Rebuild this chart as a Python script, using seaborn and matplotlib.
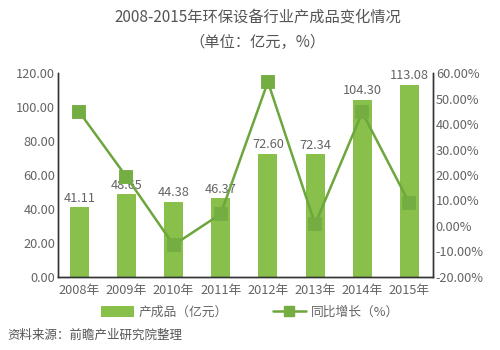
import matplotlib
matplotlib.use("Agg")
import matplotlib.pyplot as plt
from matplotlib.patches import Patch
from matplotlib.lines import Line2D
import seaborn as sns
import pandas as pd

years = ["2008年", "2009年", "2010年", "2011年", "2012年", "2013年", "2014年", "2015年"]
output = [41.11, 48.65, 44.38, 46.37, 72.60, 72.34, 104.30, 113.08]
growth = [44.8, 19.3, -7.5, 4.7, 56.6, 0.7, 44.6, 8.9]
left_ticks = [0, 20, 40, 60, 80, 100, 120]
right_ticks = [-20, -10, 0, 10, 20, 30, 40, 50, 60]

sns.set_theme(style="white")
plt.rcParams["font.family"] = ["Noto Sans CJK SC", "DejaVu Sans"]
plt.rcParams["font.weight"] = "light"

BAR = "#88c04b"
LINE = "#6ca63c"
MARK = "#74ad41"
TXT = "#646464"
AX = "#333333"

df = pd.DataFrame({"year": years, "output": output, "growth": growth})

fig = plt.figure(figsize=(5, 3.5), dpi=100)
ax = fig.add_axes([0.116, 0.209, 0.75, 0.582])
sns.barplot(data=df, x="year", y="output", color=BAR, width=0.4, ax=ax,
            saturation=1, edgecolor="none")
ax.set_ylim(0, 120)
ax.set_yticks(left_ticks)
ax.set_yticklabels([f"{v:.2f}" for v in left_ticks])
for i, v in enumerate(output):
    ax.text(i, v + 1.5, f"{v:.2f}", ha="center", va="bottom", fontsize=9.2, color=TXT)

ax2 = ax.twinx()
sns.pointplot(data=df, x="year", y="growth", color=LINE, markers="s", ax=ax2,
              linewidth=1.8, markersize=8)
for ln in ax2.lines:
    ln.set_markerfacecolor(MARK)
    ln.set_markeredgecolor(MARK)
ax2.set_ylim(-20, 60)
ax2.set_yticks(right_ticks)
ax2.set_yticklabels([f"{v:.2f}%" for v in right_ticks])
ax.set_xlim(-0.45, 7.5)
ax2.set_xlim(-0.45, 7.5)

for a in (ax, ax2):
    a.set_xlabel("")
    a.set_ylabel("")
    a.spines["top"].set_visible(False)
    for s in ("left", "right", "bottom"):
        a.spines[s].set_color(AX)
        a.spines[s].set_linewidth(1.0)
    a.tick_params(axis="y", length=0, labelsize=9.2, labelcolor=TXT, pad=2)
    a.tick_params(axis="x", length=0, labelsize=9.2, labelcolor=TXT, pad=5)
    a.grid(False)

fig.text(0.515, 0.95, "2008-2015年环保设备行业产成品变化情况", ha="center", va="center",
         fontsize=11, color="#555555")
fig.text(0.515, 0.878, "（单位：亿元，%）", ha="center", va="center",
         fontsize=11, color="#555555")

handles = [Patch(facecolor=BAR, edgecolor="none"),
           Line2D([0], [0], color=LINE, lw=1.8, marker="s", markersize=7,
                  markerfacecolor=MARK, markeredgecolor=MARK)]
fig.legend(handles, ["产成品（亿元）", "同比增长（%）"], loc="center",
           bbox_to_anchor=(0.5, 0.108), ncol=2, frameon=False, fontsize=9.2,
           handlelength=2.6, handleheight=0.9, columnspacing=3.5, labelcolor=TXT,
           handletextpad=0.4)

fig.text(0.014, 0.043, "资料来源：前瞻产业研究院整理", ha="left", va="center",
         fontsize=9, color="#555555")

fig.savefig("out.png", dpi=100)
